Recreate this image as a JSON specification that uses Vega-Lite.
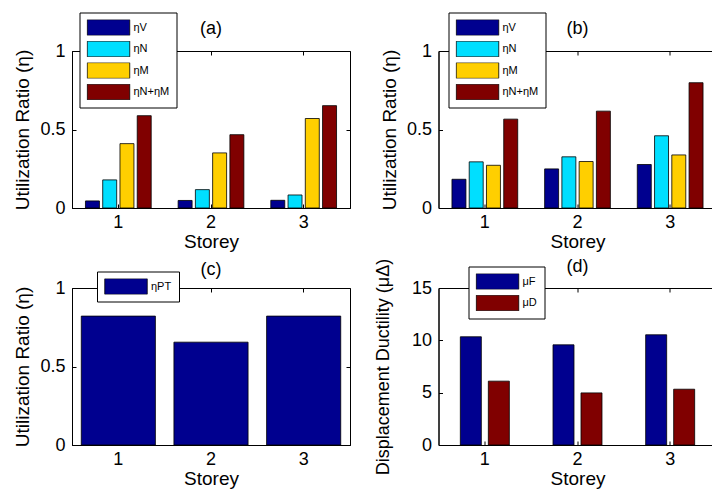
{
  "$schema": "https://vega.github.io/schema/vega-lite/v6.json",
  "padding": {"left": 13, "top": 11, "right": 0, "bottom": 0},
  "columns": 2,
  "spacing": {"row": 80, "column": 88.5},
  "bounds": "flush",
  "resolve": {"scale": {"color": "independent", "xOffset": "independent", "x": "independent", "y": "independent"}, "legend": {"color": "independent"}},
  "datasets": {
    "a": [
      {"storey": 1, "series": "ηV", "value": 0.045},
      {"storey": 1, "series": "ηN", "value": 0.179},
      {"storey": 1, "series": "ηM", "value": 0.41},
      {"storey": 1, "series": "ηN+ηM", "value": 0.588},
      {"storey": 2, "series": "ηV", "value": 0.048},
      {"storey": 2, "series": "ηN", "value": 0.117},
      {"storey": 2, "series": "ηM", "value": 0.351},
      {"storey": 2, "series": "ηN+ηM", "value": 0.467},
      {"storey": 3, "series": "ηV", "value": 0.049},
      {"storey": 3, "series": "ηN", "value": 0.083},
      {"storey": 3, "series": "ηM", "value": 0.57},
      {"storey": 3, "series": "ηN+ηM", "value": 0.652}
    ],
    "b": [
      {"storey": 1, "series": "ηV", "value": 0.183},
      {"storey": 1, "series": "ηN", "value": 0.294},
      {"storey": 1, "series": "ηM", "value": 0.272},
      {"storey": 1, "series": "ηN+ηM", "value": 0.566},
      {"storey": 2, "series": "ηV", "value": 0.249},
      {"storey": 2, "series": "ηN", "value": 0.326},
      {"storey": 2, "series": "ηM", "value": 0.296},
      {"storey": 2, "series": "ηN+ηM", "value": 0.617},
      {"storey": 3, "series": "ηV", "value": 0.277},
      {"storey": 3, "series": "ηN", "value": 0.46},
      {"storey": 3, "series": "ηM", "value": 0.338},
      {"storey": 3, "series": "ηN+ηM", "value": 0.798}
    ],
    "c": [
      {"storey": 1, "series": "ηPT", "value": 0.821},
      {"storey": 2, "series": "ηPT", "value": 0.655},
      {"storey": 3, "series": "ηPT", "value": 0.821}
    ],
    "d": [
      {"storey": 1, "series": "μF", "value": 10.34},
      {"storey": 1, "series": "μD", "value": 6.1},
      {"storey": 2, "series": "μF", "value": 9.57},
      {"storey": 2, "series": "μD", "value": 4.98},
      {"storey": 3, "series": "μF", "value": 10.53},
      {"storey": 3, "series": "μD", "value": 5.33}
    ]
  },
  "config": {
    "font": "Liberation Sans",
    "background": "white",
    "view": {"stroke": "black", "strokeWidth": 1},
    "axis": {
      "domainColor": "black", "tickColor": "black", "labelColor": "black", "titleColor": "black",
      "labelFont": "Liberation Sans", "titleFont": "Liberation Sans",
      "labelFontSize": 18, "titleFontSize": 19, "titleFontWeight": "normal",
      "grid": false, "tickSize": -4
    },
    "axisX": {"labelAngle": 0, "labelPadding": 9, "titlePadding": 1},
    "axisY": {"labelPadding": 11, "titlePadding": 7},
    "legend": {
      "orient": "none", "strokeColor": "black", "fillColor": "white", "padding": 7,
      "labelFont": "Liberation Sans", "labelFontSize": 11, "labelColor": "black", "labelOffset": 3,
      "rowPadding": 5.5, "clipHeight": 16
    },
    "title": {"font": "Liberation Sans", "fontSize": 18, "fontWeight": "normal", "color": "black", "frame": "group", "anchor": "middle"}
  },
  "concat": [
    {
      "title": {"text": "(a)", "offset": -26},
      "width": 278, "height": 157,
      "data": {"name": "a"},
      "resolve": {"axis": {"x": "independent", "y": "independent"}},
      "layer": [
        {
          "mark": {"type": "bar", "stroke": "black", "strokeWidth": 0.8},
          "encoding": {
            "x": {"field": "storey", "type": "ordinal", "scale": {"paddingInner": 0, "paddingOuter": 0}, "axis": {"title": "Storey"}},
            "xOffset": {"field": "series", "sort": ["ηV", "ηN", "ηM", "ηN+ηM"], "scale": {"paddingInner": 0.19, "paddingOuter": 0.78}},
            "y": {"field": "value", "type": "quantitative", "scale": {"domain": [0, 1], "nice": false}, "axis": {"title": "Utilization Ratio (η)", "values": [0, 0.5, 1], "format": "~g"}},
            "color": {"field": "series", "type": "nominal", "sort": ["ηV", "ηN", "ηM", "ηN+ηM"], "scale": {"domain": ["ηV", "ηN", "ηM", "ηN+ηM"], "range": ["#00008F", "#00DFFF", "#FFCF00", "#800000"]},
              "legend": {"title": null, "orient": "none", "legendX": 7.5, "legendY": -38.5, "symbolType": "M-1,-0.37H1V0.37H-1Z", "symbolSize": 1806, "symbolStrokeColor": "black", "symbolStrokeWidth": 0.8}}
          }
        },
        {
          "mark": {"type": "rule", "opacity": 0},
          "encoding": {
            "x": {"field": "storey", "type": "ordinal", "axis": {"orient": "top", "labels": false, "title": null, "domain": false}},
            "y": {"field": "value", "type": "quantitative", "scale": {"domain": [0, 1], "nice": false}, "axis": {"orient": "right", "labels": false, "title": null, "domain": false, "values": [0, 0.5, 1]}}
          }
        }
      ]
    },
    {
      "title": {"text": "(b)", "offset": -26},
      "width": 278, "height": 157,
      "data": {"name": "b"},
      "resolve": {"axis": {"x": "independent", "y": "independent"}},
      "layer": [
        {
          "mark": {"type": "bar", "stroke": "black", "strokeWidth": 0.8},
          "encoding": {
            "x": {"field": "storey", "type": "ordinal", "scale": {"paddingInner": 0, "paddingOuter": 0}, "axis": {"title": "Storey"}},
            "xOffset": {"field": "series", "sort": ["ηV", "ηN", "ηM", "ηN+ηM"], "scale": {"paddingInner": 0.19, "paddingOuter": 0.78}},
            "y": {"field": "value", "type": "quantitative", "scale": {"domain": [0, 1], "nice": false}, "axis": {"title": "Utilization Ratio (η)", "values": [0, 0.5, 1], "format": "~g"}},
            "color": {"field": "series", "type": "nominal", "sort": ["ηV", "ηN", "ηM", "ηN+ηM"], "scale": {"domain": ["ηV", "ηN", "ηM", "ηN+ηM"], "range": ["#00008F", "#00DFFF", "#FFCF00", "#800000"]},
              "legend": {"title": null, "orient": "none", "legendX": 10, "legendY": -38.5, "symbolType": "M-1,-0.37H1V0.37H-1Z", "symbolSize": 1806, "symbolStrokeColor": "black", "symbolStrokeWidth": 0.8}}
          }
        },
        {
          "mark": {"type": "rule", "opacity": 0},
          "encoding": {
            "x": {"field": "storey", "type": "ordinal", "axis": {"orient": "top", "labels": false, "title": null, "domain": false}},
            "y": {"field": "value", "type": "quantitative", "scale": {"domain": [0, 1], "nice": false}, "axis": {"orient": "right", "labels": false, "title": null, "domain": false, "values": [0, 0.5, 1]}}
          }
        }
      ]
    },
    {
      "title": {"text": "(c)", "offset": -7.5},
      "width": 278, "height": 157,
      "data": {"name": "c"},
      "resolve": {"axis": {"x": "independent", "y": "independent"}},
      "layer": [
        {
          "mark": {"type": "bar", "stroke": "black", "strokeWidth": 0.8},
          "encoding": {
            "x": {"field": "storey", "type": "ordinal", "scale": {"paddingInner": 0.2, "paddingOuter": 0.1}, "axis": {"title": "Storey"}},
            "y": {"field": "value", "type": "quantitative", "scale": {"domain": [0, 1], "nice": false}, "axis": {"title": "Utilization Ratio (η)", "values": [0, 0.5, 1], "format": "~g"}},
            "color": {"field": "series", "type": "nominal", "scale": {"domain": ["ηPT"], "range": ["#00008F"]},
              "legend": {"title": null, "orient": "none", "legendX": 25, "legendY": -16.5, "symbolType": "M-1,-0.37H1V0.37H-1Z", "symbolSize": 1806, "symbolStrokeColor": "black", "symbolStrokeWidth": 0.8}}
          }
        },
        {
          "mark": {"type": "rule", "opacity": 0},
          "encoding": {
            "x": {"field": "storey", "type": "ordinal", "axis": {"orient": "top", "labels": false, "title": null, "domain": false}},
            "y": {"field": "value", "type": "quantitative", "scale": {"domain": [0, 1], "nice": false}, "axis": {"orient": "right", "labels": false, "title": null, "domain": false, "values": [0, 0.5, 1]}}
          }
        }
      ]
    },
    {
      "title": {"text": "(d)", "offset": -18},
      "width": 278, "height": 157,
      "data": {"name": "d"},
      "resolve": {"axis": {"x": "independent", "y": "independent"}},
      "layer": [
        {
          "mark": {"type": "bar", "stroke": "black", "strokeWidth": 0.8},
          "encoding": {
            "x": {"field": "storey", "type": "ordinal", "scale": {"paddingInner": 0, "paddingOuter": 0}, "axis": {"title": "Storey"}},
            "xOffset": {"field": "series", "sort": ["μF", "μD"], "scale": {"paddingInner": 0.25, "paddingOuter": 0.78}},
            "y": {"field": "value", "type": "quantitative", "scale": {"domain": [0, 15], "nice": false}, "axis": {"title": "Displacement Ductility (μΔ)", "values": [0, 5, 10, 15], "titlePadding": 19, "titleFontSize": 18}},
            "color": {"field": "series", "type": "nominal", "sort": ["μF", "μD"], "scale": {"domain": ["μF", "μD"], "range": ["#00008F", "#800000"]},
              "legend": {"title": null, "orient": "none", "legendX": 30, "legendY": -21.5, "symbolType": "M-1,-0.37H1V0.37H-1Z", "symbolSize": 1806, "symbolStrokeColor": "black", "symbolStrokeWidth": 0.8}}
          }
        },
        {
          "mark": {"type": "rule", "opacity": 0},
          "encoding": {
            "x": {"field": "storey", "type": "ordinal", "axis": {"orient": "top", "labels": false, "title": null, "domain": false}},
            "y": {"field": "value", "type": "quantitative", "scale": {"domain": [0, 15], "nice": false}, "axis": {"orient": "right", "labels": false, "title": null, "domain": false, "values": [0, 5, 10, 15]}}
          }
        }
      ]
    }
  ]
}
